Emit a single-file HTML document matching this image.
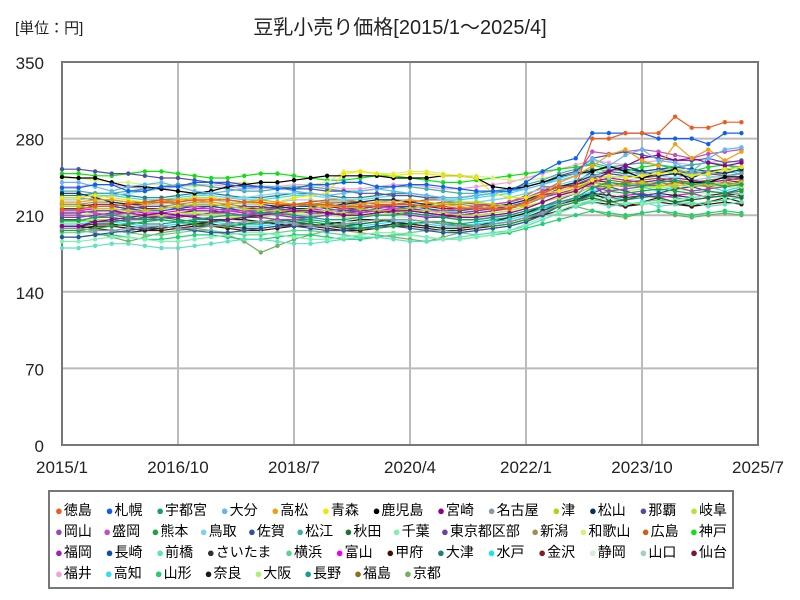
<!DOCTYPE html>
<html><head><meta charset="utf-8">
<style>
body{margin:0;background:#fff;width:800px;height:600px;overflow:hidden;font-family:"Liberation Sans","Noto Sans CJK JP",sans-serif;}
#wrap{position:relative;width:800px;height:600px;}
.legend{position:absolute;left:48px;top:490px;width:686px;height:99px;border:2px solid #777;box-sizing:border-box;}
.lrow{position:absolute;left:5px;display:flex;font-size:14px;line-height:16px;white-space:nowrap;}
.lrow.full{width:672px;justify-content:space-between;}
.lrow.part{gap:13px;}
.lrow span i{font-style:normal;font-size:13px;margin-right:1px;}
</style></head>
<body><div id="wrap">
<svg id="svg" width="800" height="600" style="position:absolute;left:0;top:0"></svg>
<div class="legend" id="legend"></div>
</div>
<script>
const categories = (function(){const a=[];for(let i=0;i<42;i++){const m=i*3;a.push((2015+Math.floor(m/12))+'/'+(m%12+1));}return a;})();
const names=["徳島","札幌","宇都宮","大分","高松","青森","鹿児島","宮崎","名古屋","津","松山","那覇","岐阜","岡山","盛岡","熊本","鳥取","佐賀","松江","秋田","千葉","東京都区部","新潟","和歌山","広島","神戸","福岡","長崎","前橋","さいたま","横浜","富山","甲府","大津","水戸","金沢","静岡","山口","仙台","福井","高知","山形","奈良","大阪","長野","福島","京都"];
const colors=["#f05a1e","#1060f0","#10a070","#60b8f0","#f0a010","#f0e800","#000000","#900090","#8898a8","#b8d010","#0a3060","#5050a0","#b0e830","#9050b0","#c050c0","#20a040","#80d0e8","#3050a0","#40b0a0","#207030","#80f0b0","#7040a0","#a09050","#d8f080","#d06010","#10e010","#a020b0","#1050a0","#60e0c0","#303030","#60d090","#f000f0","#401000","#208080","#20e0f0","#802020","#d0f0d0","#a0d0c0","#801040","#f0a0e0","#30e0f0","#20d070","#102010","#b0f070","#10a090","#907010","#70b060"];
const yTicks=[0,70,140,210,280,350];
const xTickLabels=["2015/1","2016/10","2018/7","2020/4","2022/1","2023/10","2025/7"];
const s01=[215,215,218,218,220,222,222,222,224,224,224,222,222,220,220,220,220,218,218,218,220,220,218,218,216,216,216,216,222,230,236,236,280,280,285,285,285,300,290,290,295,295];
const s02=[235,235,238,238,232,232,236,236,240,240,238,236,236,234,234,238,238,240,240,236,236,238,238,236,234,232,232,232,240,250,258,262,285,285,285,285,280,280,280,275,285,285];
const s03=[205,205,208,210,208,206,206,204,206,208,210,210,212,212,210,208,206,206,208,210,210,212,210,208,206,206,208,210,214,218,222,226,235,240,238,236,240,242,238,240,236,238];
const s04=[240,240,236,232,236,238,240,236,232,230,232,234,236,236,232,230,228,230,232,234,232,230,228,226,226,228,230,232,234,238,244,248,262,255,265,270,260,258,250,262,270,272];
const s05=[222,222,224,224,222,220,222,224,224,222,220,222,224,222,220,220,218,218,220,222,222,224,222,220,218,216,218,218,220,228,240,246,255,265,270,260,255,275,262,270,260,268];
const s06=[226,226,228,226,224,222,222,224,226,226,224,222,220,222,226,228,230,248,250,248,246,248,248,246,246,244,230,226,226,230,232,236,242,246,244,246,248,250,246,248,252,254];
const s07=[245,244,244,240,236,236,234,232,230,232,236,238,240,240,242,244,246,246,246,246,244,244,244,246,246,244,236,234,236,240,245,248,250,255,250,244,248,252,240,240,245,245];
const s08=[200,200,204,206,208,210,212,210,208,206,206,208,210,212,214,214,212,210,210,212,214,214,212,210,208,208,210,212,216,222,228,232,240,250,255,262,265,260,262,258,255,258];
const s09=[198,198,196,196,198,200,200,198,198,200,202,204,204,204,202,200,200,202,204,206,206,206,204,202,200,200,202,204,208,212,220,226,245,252,250,248,250,252,248,250,246,248];
const s10=[218,218,216,216,214,214,216,218,220,220,218,216,214,214,214,216,218,218,216,214,214,216,218,220,222,222,220,218,218,222,228,234,240,236,238,240,238,236,240,238,236,240];
const s11=[230,230,226,222,220,220,222,224,226,226,224,222,220,218,216,216,218,220,222,224,224,222,220,218,216,216,218,220,224,230,236,240,246,250,255,250,246,248,244,250,248,252];
const s12=[252,252,250,248,248,246,244,244,242,240,240,238,236,236,234,234,232,232,230,230,228,228,226,226,226,228,230,232,236,240,246,250,262,265,268,265,262,260,260,262,258,260];
const s13=[204,204,206,206,208,210,210,212,212,210,208,208,210,212,212,214,214,212,210,210,212,214,214,212,210,210,212,214,218,222,226,230,236,240,238,236,236,238,236,240,238,236];
const s14=[210,210,208,208,206,206,208,210,210,212,212,210,208,206,206,208,210,212,212,214,214,212,210,208,206,206,208,210,214,218,224,230,236,232,234,236,238,236,232,234,236,238];
const s15=[214,214,212,210,212,214,216,218,218,216,214,214,212,210,212,214,214,216,218,218,216,214,214,214,216,218,220,222,226,232,240,246,268,266,268,270,268,265,262,266,268,270];
const s16=[196,196,198,200,202,204,206,204,202,200,200,202,204,206,206,204,202,200,198,198,200,202,204,204,202,200,200,202,206,212,218,222,228,232,230,232,234,232,230,232,230,232];
const s17=[224,224,226,228,230,232,234,232,230,228,226,226,228,230,230,228,226,224,224,226,228,228,226,224,222,222,224,226,230,234,238,242,248,244,246,248,246,244,248,246,244,248];
const s18=[190,190,192,194,196,198,200,198,196,194,194,196,198,200,200,198,196,196,198,200,200,198,196,194,194,196,198,200,204,210,218,222,230,236,232,228,230,234,236,232,230,234];
const s19=[232,232,230,230,232,234,236,238,238,236,234,232,232,234,236,236,234,232,232,234,236,236,234,232,230,230,232,234,238,242,248,252,258,254,256,258,256,254,256,258,256,254];
const s20=[206,206,204,204,206,208,208,206,204,204,206,208,208,206,204,202,200,200,202,204,206,206,204,202,200,200,202,204,208,212,218,222,226,222,224,228,226,222,224,226,228,226];
const s21=[186,186,188,190,190,188,186,186,188,190,192,194,194,192,190,188,188,190,192,194,194,192,190,188,188,190,192,196,202,208,214,220,224,226,222,220,222,224,226,228,226,230];
const s22=[212,212,214,214,216,218,218,216,214,214,216,218,218,216,214,212,212,214,216,218,218,216,214,212,212,214,216,218,222,228,234,238,244,248,246,244,246,248,250,248,246,248];
const s23=[220,220,222,222,220,218,218,220,222,222,220,218,216,216,218,220,222,222,220,218,216,216,218,220,220,218,216,216,220,226,232,236,240,238,236,238,240,238,236,238,240,238];
const s24=[244,244,242,240,240,238,238,236,236,238,240,240,238,236,236,238,240,250,250,248,248,250,250,248,246,246,244,242,242,244,246,248,250,252,250,248,250,252,250,248,250,252];
const s25=[226,226,224,224,222,222,224,224,226,226,224,222,222,220,220,222,224,224,222,220,220,222,224,224,222,220,220,222,228,236,236,236,236,236,240,238,236,240,238,236,238,240];
const s26=[248,248,246,246,248,250,250,248,246,244,244,246,248,248,246,244,242,242,244,246,246,244,242,240,240,242,244,246,248,250,252,254,256,252,250,254,256,252,250,254,256,252];
const s27=[208,208,210,212,212,210,208,208,210,212,214,214,212,210,208,208,210,212,214,214,212,210,208,208,210,212,214,216,220,226,230,234,240,244,242,240,242,244,242,240,242,244];
const s28=[216,216,218,218,216,214,214,216,218,218,216,214,214,216,218,218,216,214,214,216,218,218,216,214,214,216,218,220,224,230,236,240,250,254,252,250,252,254,252,250,252,254];
const s29=[180,180,182,184,184,182,180,180,182,184,186,188,188,186,184,184,186,188,190,190,188,186,186,188,190,192,194,196,200,206,212,218,222,218,220,222,218,220,222,218,220,222];
const s30=[200,200,202,202,200,198,198,200,202,202,200,198,198,200,202,202,200,198,198,200,202,202,200,198,198,200,202,204,208,214,220,224,230,228,226,228,230,228,226,228,230,228];
const s31=[194,194,196,196,194,192,192,194,196,196,194,192,192,194,196,196,194,192,190,190,192,194,196,196,194,192,194,196,200,206,212,218,224,222,220,222,224,222,220,222,224,226];
const s32=[214,214,216,216,214,212,212,214,216,216,214,212,212,214,216,216,214,212,212,214,216,216,214,212,212,214,216,218,222,228,232,236,238,226,228,230,226,228,230,226,228,230];
const s33=[198,198,200,200,198,196,196,198,200,200,198,196,196,198,200,200,198,196,196,198,200,200,198,196,196,198,200,202,206,210,214,218,222,220,218,220,222,220,218,220,222,220];
const s34=[228,228,230,230,228,226,226,228,230,230,228,226,226,228,230,230,228,226,226,228,230,230,228,226,226,228,230,232,236,240,244,248,252,250,248,250,252,250,248,250,252,250];
const s35=[202,202,204,204,202,200,200,202,204,204,202,200,200,202,204,204,202,200,200,202,204,204,202,200,200,202,204,206,210,216,222,226,232,236,240,236,232,236,240,236,232,236];
const s36=[218,218,220,220,218,216,216,218,220,220,218,216,216,218,220,220,218,216,216,218,220,220,218,216,216,218,220,222,226,232,236,238,242,240,238,240,242,240,238,240,242,240];
const s37=[206,206,208,208,206,204,204,206,208,208,206,204,204,206,208,208,206,204,204,206,208,208,206,204,204,206,208,210,214,218,222,226,232,230,228,230,232,230,228,230,232,230];
const s38=[222,222,224,224,222,220,220,222,224,224,222,220,220,222,224,224,222,220,220,222,224,224,222,220,220,222,224,226,230,234,238,242,246,244,242,244,246,244,242,244,246,244];
const s39=[212,212,214,214,212,210,210,212,214,214,212,210,210,212,214,214,212,210,210,212,214,214,212,210,210,212,214,216,220,226,232,236,240,238,236,238,240,238,236,238,240,238];
const s40=[236,236,238,238,236,234,234,236,238,238,236,234,234,236,238,238,236,234,234,236,238,238,236,234,234,236,238,240,244,248,252,256,260,258,256,258,260,258,256,258,260,258];
const s41=[226,226,228,228,226,224,224,226,228,228,226,224,224,226,228,228,226,224,224,226,228,228,226,224,224,226,228,230,234,238,242,246,250,248,246,248,250,248,246,248,250,248];
const s42=[190,190,192,192,190,188,188,190,192,192,190,188,188,190,192,192,190,188,188,190,192,192,190,188,188,190,192,194,198,202,206,210,214,212,210,212,214,212,210,212,214,212];
const s43=[200,200,198,196,194,196,198,200,202,204,206,206,204,202,200,200,202,204,206,206,204,202,200,198,198,200,204,208,212,218,222,226,230,224,218,222,226,222,218,222,226,222];
const s44=[210,210,212,212,210,208,208,210,212,212,210,208,208,210,212,212,210,208,208,210,212,212,210,208,208,210,212,214,218,222,226,230,236,234,232,234,236,234,232,234,236,234];
const s45=[204,204,206,206,204,202,202,204,206,206,204,202,202,204,206,206,204,202,202,204,206,206,204,202,202,204,206,208,212,216,220,224,228,226,224,226,228,226,224,226,228,226];
const s46=[220,220,218,218,220,222,222,220,218,218,220,222,222,220,218,218,220,222,222,220,218,218,220,222,222,220,218,218,222,228,234,238,244,242,240,242,244,242,240,242,244,242];
const s47=[196,196,194,190,186,190,194,196,198,196,192,186,176,182,188,192,196,196,194,192,190,188,186,190,194,196,198,200,204,210,214,218,214,210,208,212,214,210,208,210,212,210];
const series=[s01,s02,s03,s04,s05,s06,s07,s08,s09,s10,s11,s12,s13,s14,s15,s16,s17,s18,s19,s20,s21,s22,s23,s24,s25,s26,s27,s28,s29,s30,s31,s32,s33,s34,s35,s36,s37,s38,s39,s40,s41,s42,s43,s44,s45,s46,s47];

const NS="http://www.w3.org/2000/svg";
const svg=document.getElementById('svg');
const PL=62,PR=758,PT=62,PB=445,TOTAL_M=126;
function monthOf(c){const p=c.split('/');return (+p[0]-2015)*12+(+p[1]-1);}
function xScale(c){return PL+monthOf(c)/TOTAL_M*(PR-PL);}
function yScale(v){return PB-v/350*(PB-PT);}
function mk(tag,attrs,parent){const e=document.createElementNS(NS,tag);for(const k in attrs)e.setAttribute(k,attrs[k]);(parent||svg).appendChild(e);return e;}

let t=mk('text',{x:15,y:33,'font-size':15,fill:'#222'});t.textContent='[単位：円]';


t=mk('text',{x:400,y:34,'font-size':20,fill:'#222','text-anchor':'middle'});t.textContent='豆乳小売り価格[2015/1～2025/4]';



yTicks.forEach(v=>{const y=yScale(v);
 if(v>0&&v<350){const g=mk('line',{x1:PL,x2:PR,y1:y,y2:y,stroke:'#bbb','stroke-width':2});
 
 }
 const l=mk('text',{x:44,y:y+7,'font-size':17,fill:'#222','text-anchor':'end'});l.textContent=v;
 
 
});
xTickLabels.forEach(c=>{const x=xScale(c);
 if(x>PL+1&&x<PR-1){const g=mk('line',{x1:x,x2:x,y1:PT,y2:PB,stroke:'#bbb','stroke-width':2});
 
 }
 const l=mk('text',{x:x,y:473,'font-size':17,fill:'#222','text-anchor':'middle'});l.textContent=c;
 
 
});
const frame=mk('rect',{x:PL,y:PT,width:PR-PL,height:PB-PT,fill:'none',stroke:'#777','stroke-width':2});



for(let s=series.length-1;s>=0;s--){
 const d=series[s];const g=mk('g',{});
 
 
 const pts=d.map((v,i)=>xScale(categories[i]).toFixed(1)+','+yScale(v).toFixed(1)).join(' ');
 const pl=mk('polyline',{points:pts,fill:'none',stroke:colors[s],'stroke-width':1.2},g);
 
 
 d.forEach((v,i)=>{const c=mk('circle',{cx:xScale(categories[i]),cy:yScale(v),r:2.2,fill:colors[s]},g);
  
  });
}

const rows=[[0,13],[13,26],[26,39],[39,47]];
const leg=document.getElementById('legend');
rows.forEach((r,ri)=>{const row=document.createElement('div');row.className='lrow '+(ri<3?'full':'part');row.style.top=(10+ri*21)+'px';
 
 
 for(let i=r[0];i<r[1];i++){const sp=document.createElement('span');
  sp.innerHTML='<i style="color:'+colors[i]+'">●</i>'+names[i];
  
  
  row.appendChild(sp);}
 leg.appendChild(row);});
</script>
</body></html>
